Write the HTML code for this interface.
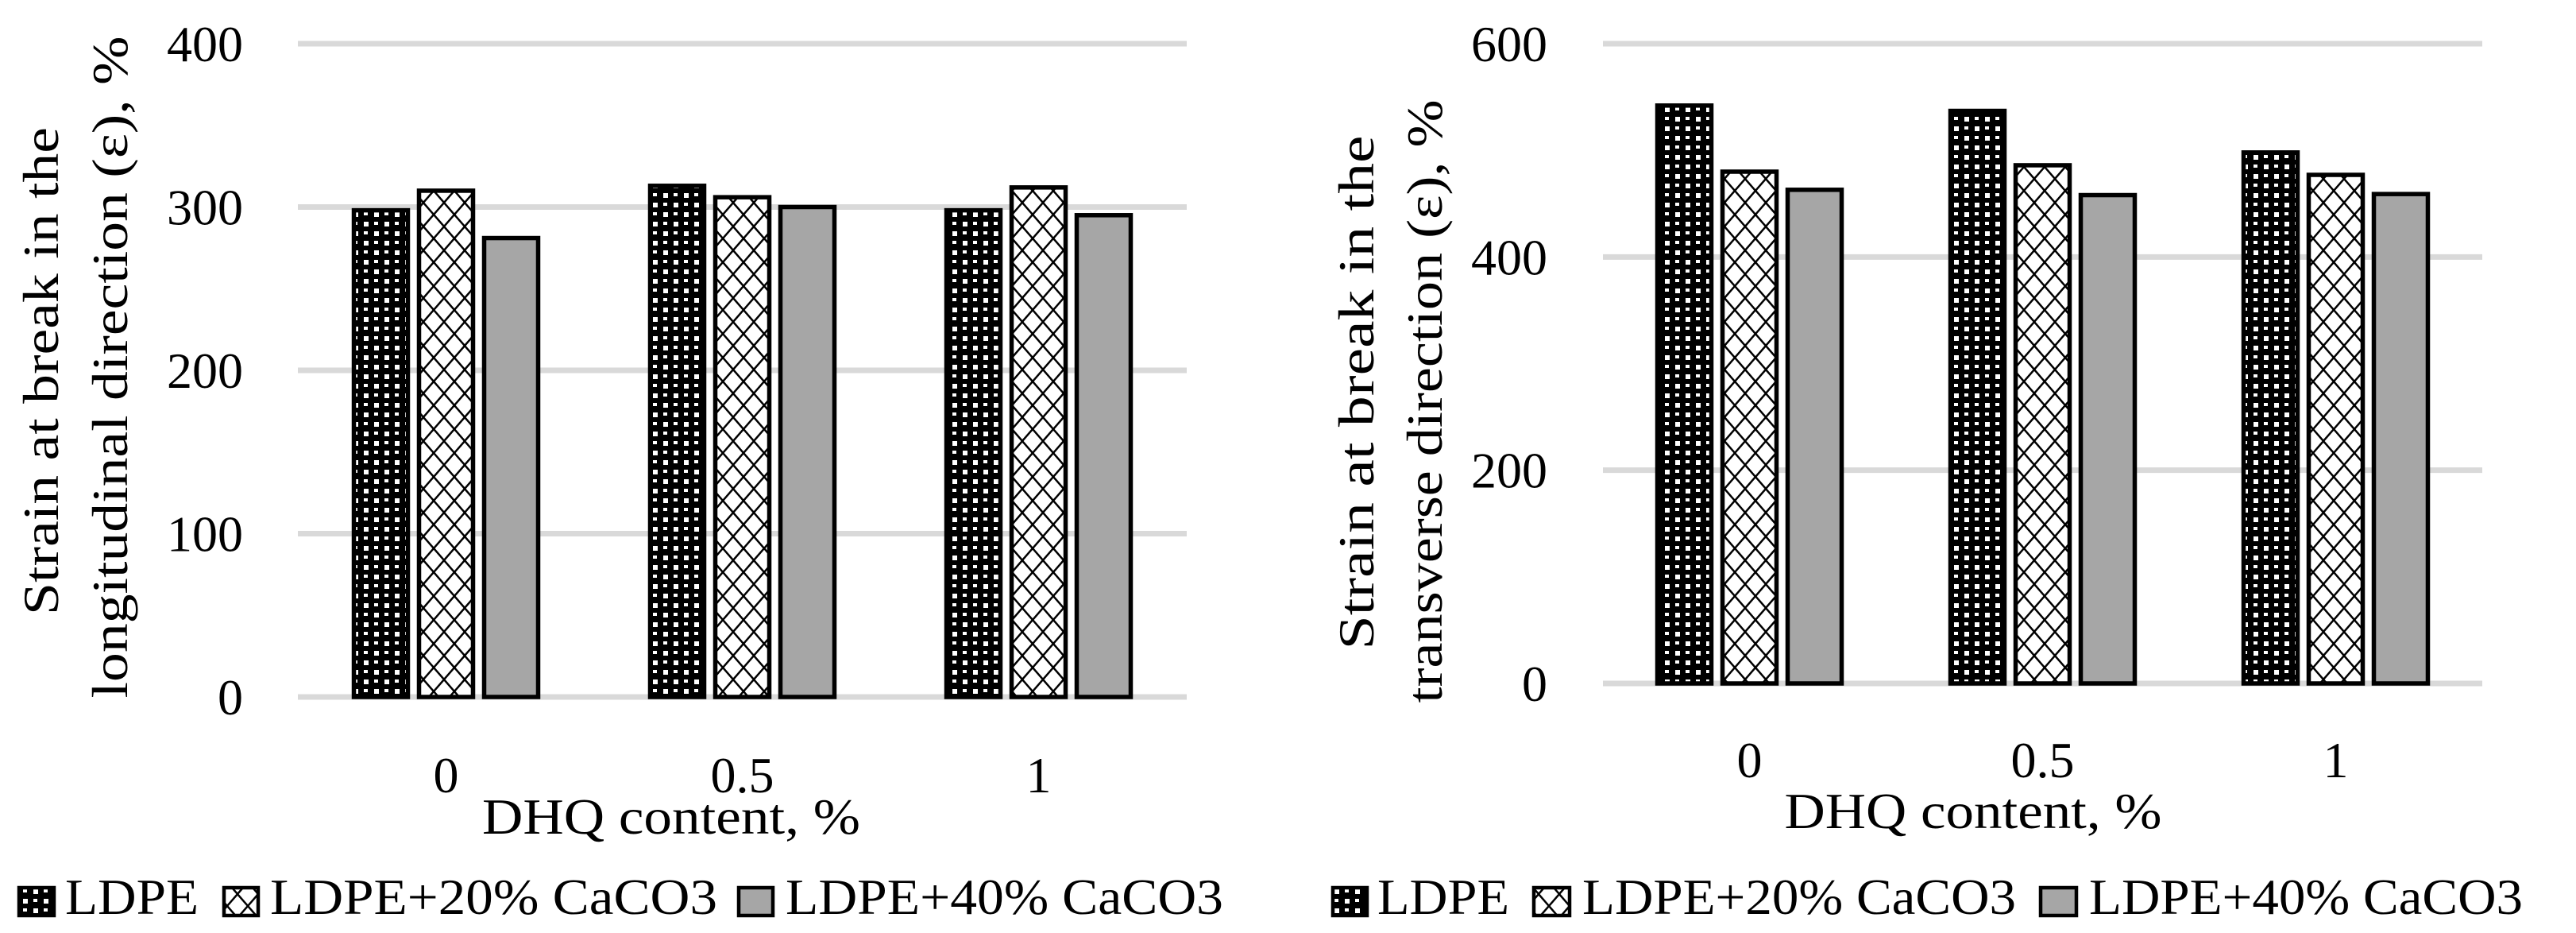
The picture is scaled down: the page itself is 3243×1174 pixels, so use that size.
<!DOCTYPE html>
<html><head><meta charset="utf-8"><style>
html,body{margin:0;padding:0;background:#fff;}
svg{display:block;}
text{font-family:"Liberation Serif",serif;fill:#000;}
</style></head><body>
<svg id="c" width="3243" height="1174" viewBox="0 0 3243 1174" xmlns="http://www.w3.org/2000/svg">
<defs>
<pattern id="pDots" patternUnits="userSpaceOnUse" width="26" height="24">
<rect width="26" height="24" fill="#000"/>
<rect x="3" y="3" width="6" height="6" fill="#fff"/>
<rect x="16" y="15" width="6" height="6" fill="#fff"/>
<rect x="16" y="3" width="5" height="4" fill="#fff"/>
<rect x="3" y="15" width="5" height="4" fill="#fff"/>
</pattern>
<pattern id="pZig" patternUnits="userSpaceOnUse" width="26" height="30">
<rect width="26" height="30" fill="#fff"/>
<path d="M0 0 L13 15 L26 0 M0 30 L13 15 L26 30" stroke="#000" stroke-width="2.5" fill="none"/>
</pattern>
</defs>
</svg>
<script>
const categories = ["0","0.5","1"];
const seriesNames = ["LDPE","LDPE+20% CaCO3","LDPE+40% CaCO3"];
const leftLDPE = [298, 313, 298];
const left20 = [310, 306, 312];
const left40 = [281, 300, 295];
const rightLDPE = [542, 537, 498];
const right20 = [480, 486, 477];
const right40 = [463, 458, 459];
const leftTicks = [0,100,200,300,400];
const rightTicks = [0,200,400,600];

const svg = document.getElementById('c');
const NS = 'http://www.w3.org/2000/svg';
function mk(tag, attrs, parent){const e=document.createElementNS(NS,tag);for(const k in attrs)e.setAttribute(k,attrs[k]);(parent||svg).appendChild(e);return e;}
const fills = ["url(#pDots)","url(#pZig)","#a6a6a6"];

function drawChart(cfg){
  const g = mk('g',{});
  
  
  const yS = v => cfg.y0 - (v/cfg.max)*(cfg.y0-cfg.yTop);
  const cat = (cfg.x1-cfg.x0)/categories.length;
  cfg.ticks.forEach(t=>{
    const l = mk('line',{x1:cfg.x0,x2:cfg.x1,y1:yS(t),y2:yS(t),stroke:'#d9d9d9','stroke-width':7},g);
    
    
    const tx = mk('text',{x:cfg.tickX,y:yS(t)+22,'font-size':64,'text-anchor':'end'},g);
    tx.textContent = t;
    
    
  });
  const series=[cfg.s0,cfg.s1,cfg.s2];
  const bw=68, gap=14;
  categories.forEach((c,i)=>{
    const cx = cfg.x0 + cat*(i+0.5);
    series.forEach((s,j)=>{
      const x = cx - (3*bw+2*gap)/2 + j*(bw+gap);
      const r = mk('rect',{x:x,y:yS(s[i]),width:bw,height:cfg.y0-yS(s[i]),fill:fills[j],stroke:'#000','stroke-width':5.5},g);
      
      
    });
    const xl = mk('text',{x:cx,y:cfg.xLabY,'font-size':64,'text-anchor':'middle'},g);
    xl.textContent=c;
    
    
  });
  const xt = mk('text',{x:cfg.xtX,y:cfg.xtY,'font-size':64,'text-anchor':'middle',textLength:cfg.xtW,lengthAdjust:'spacingAndGlyphs'},g);
  xt.textContent='DHQ content, %';
  
  
  cfg.yt.forEach((l,k)=>{
    const t = mk('text',{x:0,y:0,'font-size':64,'text-anchor':'middle',textLength:l.w,lengthAdjust:'spacingAndGlyphs',transform:`translate(${l.x},${l.cy}) rotate(-90)`},g);
    t.textContent=l.t;
    
    
  });
  cfg.leg.forEach((L,j)=>{
    const sw = mk('rect',{x:L.sx,y:1117,width:L.sw,height:35,fill:fills[j],stroke:'#000','stroke-width':4.5},g);
    
    
    const t = mk('text',{x:L.tx,y:1150,'font-size':64,textLength:L.tw,lengthAdjust:'spacingAndGlyphs'},g);
    t.textContent=seriesNames[j];
    
    
  });
}

drawChart({name:'left-chart',x0:375,x1:1494,y0:877,yTop:55,max:400,ticks:leftTicks,tickX:306,
  s0:leftLDPE,s1:left20,s2:left40,xLabY:997,xtX:845,xtY:1049,xtW:476,
  yt:[{t:'Strain at break in the',x:73,cy:467,w:614},{t:'longitudinal direction (ε), %',x:160,cy:462,w:833}],
  leg:[{sx:24,sw:44,tx:82,tw:168},{sx:282,sw:43,tx:340,tw:563},{sx:930,sw:43,tx:989,tw:551}]});
drawChart({name:'right-chart',x0:2018,x1:3125,y0:860,yTop:55,max:600,ticks:rightTicks,tickX:1948,
  s0:rightLDPE,s1:right20,s2:right40,xLabY:978,xtX:2484,xtY:1042,xtW:475,
  yt:[{t:'Strain at break in  the',x:1729,cy:494,w:647},{t:'transverse direction (ε), %',x:1815,cy:505,w:759}],
  leg:[{sx:1678,sw:43,tx:1734,tw:166},{sx:1931,sw:45,tx:1992,tw:546},{sx:2569,sw:45,tx:2630,tw:546}]});
</script>
</body></html>
